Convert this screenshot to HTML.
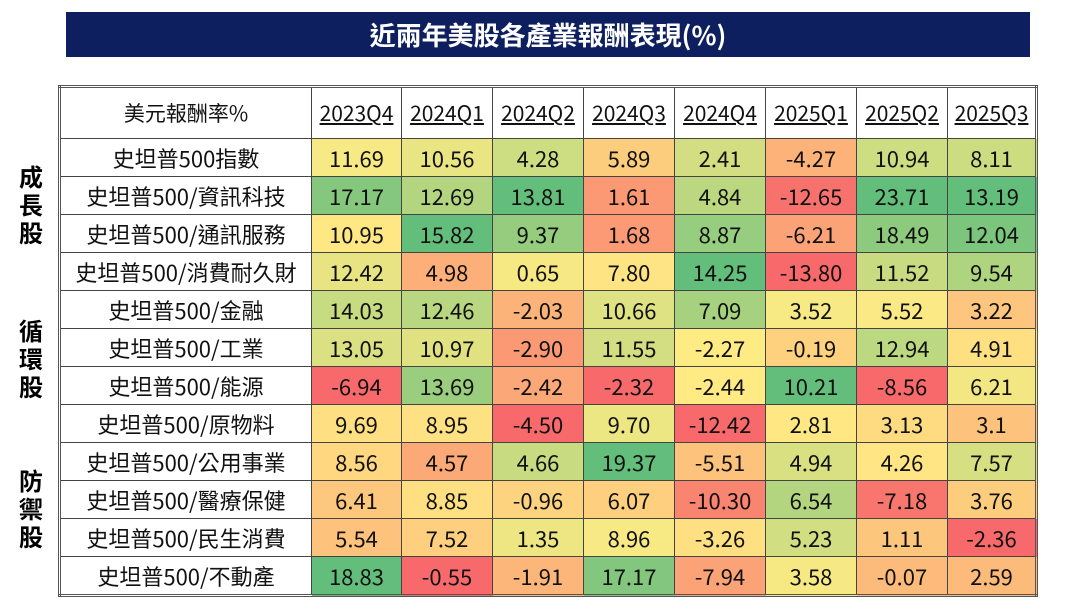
<!DOCTYPE html>
<html><head><meta charset="utf-8"><style>
body{margin:0;width:1078px;height:610px;background:#fff;font-family:"Liberation Sans","Noto Sans CJK TC",sans-serif;position:relative;overflow:hidden}
.title{position:absolute;left:66px;top:12px;width:964px;height:45px;background:#0d1f5e;color:#fff;font-size:26px;font-weight:bold;text-align:center;line-height:45px;font-family:"Noto Sans CJK TC",sans-serif}
table{position:absolute;left:58px;top:85px;border-collapse:collapse;border:3px double #555;table-layout:fixed}
td{border:1px solid #444;height:37px;padding:0;text-align:center;font-size:22px;color:#111;white-space:nowrap;font-family:"Noto Sans CJK TC",sans-serif;line-height:36px}
tr.h td{height:50px;font-size:21px}
tr.h td.d{text-decoration:underline}
.side{position:absolute;left:18px;width:26px;font-size:24px;font-weight:bold;line-height:28px;text-align:center;font-family:"Noto Sans CJK TC",sans-serif}
</style></head><body>
<div class="title">近兩年美股各產業報酬表現(%)</div>
<div class="side" style="top:162px">成<br>長<br>股</div>
<div class="side" style="top:316px">循<br>環<br>股</div>
<div class="side" style="top:466px">防<br>禦<br>股</div>
<table id="t">
<colgroup><col style="width:252px"><col style="width:90px"><col style="width:91px"><col style="width:91px"><col style="width:91px"><col style="width:91px"><col style="width:91px"><col style="width:91px"><col style="width:89px"></colgroup>
<tr class="h"><td>美元報酬率%</td><td class="d">2023Q4</td><td class="d">2024Q1</td><td class="d">2024Q2</td><td class="d">2024Q3</td><td class="d">2024Q4</td><td class="d">2025Q1</td><td class="d">2025Q2</td><td class="d">2025Q3</td></tr>
</table>
<script>
var rows=[["史坦普500指數","11.69","10.56","4.28","5.89","2.41","-4.27","10.94","8.11"],
["史坦普500/資訊科技","17.17","12.69","13.81","1.61","4.84","-12.65","23.71","13.19"],
["史坦普500/通訊服務","10.95","15.82","9.37","1.68","8.87","-6.21","18.49","12.04"],
["史坦普500/消費耐久財","12.42","4.98","0.65","7.80","14.25","-13.80","11.52","9.54"],
["史坦普500/金融","14.03","12.46","-2.03","10.66","7.09","3.52","5.52","3.22"],
["史坦普500/工業","13.05","10.97","-2.90","11.55","-2.27","-0.19","12.94","4.91"],
["史坦普500/能源","-6.94","13.69","-2.42","-2.32","-2.44","10.21","-8.56","6.21"],
["史坦普500/原物料","9.69","8.95","-4.50","9.70","-12.42","2.81","3.13","3.1"],
["史坦普500/公用事業","8.56","4.57","4.66","19.37","-5.51","4.94","4.26","7.57"],
["史坦普500/醫療保健","6.41","8.85","-0.96","6.07","-10.30","6.54","-7.18","3.76"],
["史坦普500/民生消費","5.54","7.52","1.35","8.96","-3.26","5.23","1.11","-2.36"],
["史坦普500/不動產","18.83","-0.55","-1.91","17.17","-7.94","3.58","-0.07","2.59"]];
var R=[248,105,107],Y=[255,235,132],G=[99,190,123];
function mix(a,b,t){return 'rgb('+a.map((v,i)=>Math.round(v+(b[i]-v)*t)).join(',')+')';}
var stats=[];
for(var c=1;c<9;c++){var v=rows.map(r=>+r[c]).sort((a,b)=>a-b);var n=v.length;var med=(v[5]+v[6])/2;stats[c]=[v[0],med,v[n-1]];}
var t=document.getElementById('t');
rows.forEach(function(r){var tr=document.createElement('tr');r.forEach(function(x,c){var td=document.createElement('td');td.textContent=x;
if(c>0){var s=stats[c],v=+x,col;if(v<=s[1])col=mix(R,Y,(v-s[0])/(s[1]-s[0]));else col=mix(Y,G,(v-s[1])/(s[2]-s[1]));td.style.background=col;}
tr.appendChild(td);});t.appendChild(tr);});
</script>
</body></html>
